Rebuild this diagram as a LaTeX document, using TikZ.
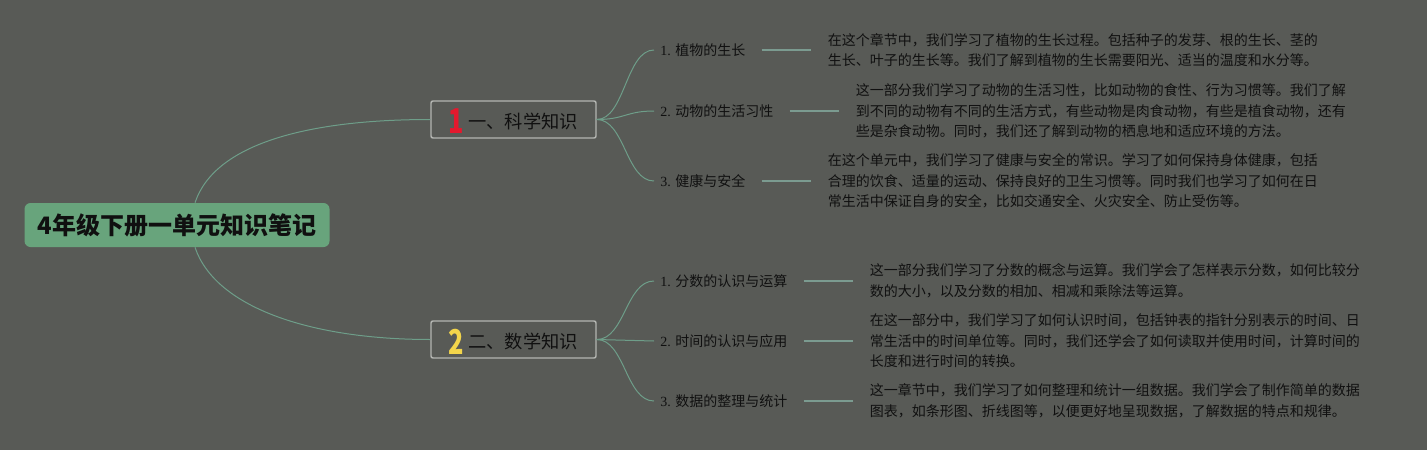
\documentclass[tikz,border=0pt]{standalone}
\usepackage{fontspec}
\setmainfont{Liberation Serif}
\newfontfamily\cjk{Noto Sans CJK SC}
\usepackage{graphicx}
\usetikzlibrary{positioning}
\definecolor{mmbg}{HTML}{585A56}
\definecolor{mmgreen}{HTML}{68A47C}
\definecolor{mmline}{HTML}{6E9E89}
\definecolor{mmtie}{HTML}{7B9B90}
\definecolor{mmframe}{HTML}{B4B6B2}
\definecolor{mmred}{HTML}{E3192E}
\definecolor{mmyellow}{HTML}{F3D54B}
\definecolor{mmtext}{HTML}{101010}
\tikzset{
  mm root/.style={
    rounded corners=4.5pt,fill=mmgreen,minimum width=228.75pt,minimum height=33pt,
    inner sep=0pt,text=mmtext,font=\cjk\bfseries\fontsize{18}{20}\selectfont
  },
  mm branch/.style={
    draw=mmframe,line width=1.1pt,rounded corners=1.5pt,fill=mmbg,
    minimum width=123.75pt,minimum height=27.75pt,inner sep=0pt,text depth=1pt,
    text=mmtext,font=\cjk\fontsize{13.7}{16}\selectfont
  },
  mm leaf/.style={anchor=west,inner sep=0pt,inner xsep=4.5pt,text=mmtext,
    font=\fontsize{10.5}{12}\selectfont},
  mm note/.style={align=left,inner sep=0pt,text=mmtext,
    font=\cjk\fontsize{10.5}{15.4}\selectfont},
  mm edge/.style={mmline,line width=0.75pt},
  mm tie/.style={mmtie,line width=1.5pt}
}
\newcommand{\mmnum}[2]{%
  \raisebox{-4pt}{\color{#1}\bfseries\scalebox{1}[1.35]{\fontsize{19}{20}\selectfont #2}}\hspace{3pt}}

\begin{document}
\begin{tikzpicture}[x=0.75pt,y=-0.75pt]
  \useasboundingbox (0,0) rectangle (1427,450);
  \fill[mmbg] (0,0) rectangle (1427,450);

  \node[mm root] (root) at (177,225) {4年级下册一单元知识笔记};
  \node[mm branch] (sci) at (513.5,119.5) {\mmnum{mmred}{1}一、科学知识};
  \node[mm branch] (math) at (513.5,339.5) {\mmnum{mmyellow}{2}二、数学知识};

  \node[mm leaf] (sciA) at (654,50) {1. {\cjk 植物的生长}};
  \node[mm leaf] (sciB) at (654,111) {2. {\cjk 动物的生活习性}};
  \node[mm leaf] (sciC) at (654,181) {3. {\cjk 健康与安全}};
  \node[mm leaf] (mathA) at (654,281) {1. {\cjk 分数的认识与运算}};
  \node[mm leaf] (mathB) at (654,341) {2. {\cjk 时间的认识与应用}};
  \node[mm leaf] (mathC) at (654,401) {3. {\cjk 数据的整理与统计}};

  \node[mm note,right=57pt of sciA] (sciA-note)
    {在这个章节中，我们学习了植物的生长过程。包括种子的发芽、根的生长、茎的\\
     生长、叶子的生长等。我们了解到植物的生长需要阳光、适当的温度和水分等。};
  \node[mm note,right=57pt of sciB] (sciB-note)
    {这一部分我们学习了动物的生活习性，比如动物的食性、行为习惯等。我们了解\\
     到不同的动物有不同的生活方式，有些动物是肉食动物，有些是植食动物，还有\\
     些是杂食动物。同时，我们还了解到动物的栖息地和适应环境的方法。};
  \node[mm note,right=57pt of sciC] (sciC-note)
    {在这个单元中，我们学习了健康与安全的常识。学习了如何保持身体健康，包括\\
     合理的饮食、适量的运动、保持良好的卫生习惯等。同时我们也学习了如何在日\\
     常生活中保证自身的安全，比如交通安全、火灾安全、防止受伤等。};
  \node[mm note,right=57pt of mathA] (mathA-note)
    {这一部分我们学习了分数的概念与运算。我们学会了怎样表示分数，如何比较分\\
     数的大小，以及分数的相加、相减和乘除法等运算。};
  \node[mm note,right=57pt of mathB] (mathB-note)
    {在这一部分中，我们学习了如何认识时间，包括钟表的指针分别表示的时间、日\\
     常生活中的时间单位等。同时，我们还学会了如何读取并使用时间，计算时间的\\
     长度和进行时间的转换。};
  \node[mm note,right=57pt of mathC] (mathC-note)
    {这一章节中，我们学习了如何整理和统计一组数据。我们学会了制作简单的数据\\
     图表，如条形图、折线图等，以便更好地呈现数据，了解数据的特点和规律。};

  \draw[mm edge] ([xshift=13.5pt]root.north) .. controls +(20,-60) and +(-120,0) .. (sci.west);
  \draw[mm edge] ([xshift=13.5pt]root.south) .. controls +(20,60) and +(-120,0) .. (math.west);
  \foreach \n in {sciA,sciB,sciC}
    \draw[mm edge] (sci.east) .. controls +(28,0) and +(-28,0) .. (\n.west);
  \foreach \n in {mathA,mathB,mathC}
    \draw[mm edge] (math.east) .. controls +(28,0) and +(-28,0) .. (\n.west);
  \foreach \n in {sciA,sciB,sciC,mathA,mathB,mathC}
    \draw[mm tie] ([xshift=7.5pt]\n.east) -- ([xshift=-12.75pt]\n-note.west);
\end{tikzpicture}
\end{document}
